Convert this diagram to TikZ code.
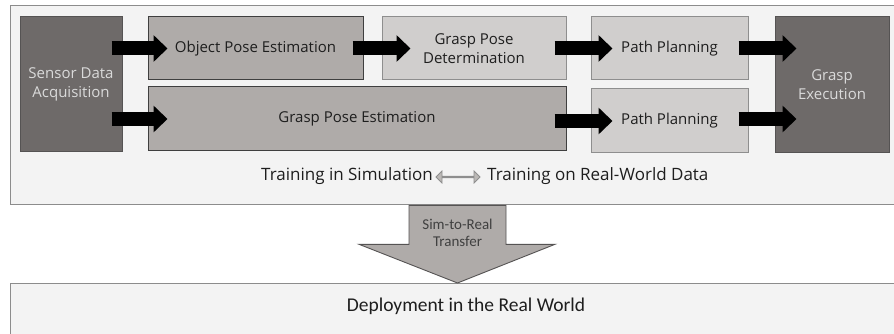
\documentclass[tikz,border=0pt]{standalone}
\usepackage{fontspec}
\setmainfont{Open Sans}
\newfontfamily\calib{Carlito}
\usetikzlibrary{arrows.meta,shapes.arrows}

\definecolor{panelfill}{HTML}{F3F3F3}
\definecolor{panelline}{HTML}{8C8C8C}
\definecolor{darkfill}{HTML}{6E6A69}
\definecolor{darkline}{HTML}{555353}
\definecolor{midfill}{HTML}{AFABA9}
\definecolor{midline}{HTML}{3F3F3F}
\definecolor{lightfill}{HTML}{D0CECD}
\definecolor{lightline}{HTML}{8E8E8E}
\definecolor{paletext}{HTML}{DADADA}
\definecolor{boxtext}{HTML}{1E1E1E}

\tikzset{
  stagebox/.style={rectangle, inner sep=0pt, line width=1pt, align=center,
    font=\fontsize{15}{19}\selectfont, text=boxtext},
  darkbox/.style={stagebox, fill=darkfill, draw=darkline, text=paletext},
  midbox/.style={stagebox, fill=midfill, draw=midline},
  lightbox/.style={stagebox, fill=lightfill, draw=lightline},
  panel/.style={rectangle, inner sep=0pt, fill=panelfill, draw=panelline, line width=1.3pt},
  blockarrow/.style={line width=14pt, black,
    -{Triangle[length=14pt, width=26pt]}},
}

\begin{document}
\begin{tikzpicture}[x=1pt, y=-1pt]
  \useasboundingbox (0,0) rectangle (894,334);
  \fill[white] (0,0) rectangle (894,334);

  % panels
  \node[panel, minimum width=900pt, minimum height=199pt, anchor=north west] (train) at (10,5) {};
  \node[panel, minimum width=900pt, minimum height=70pt, anchor=north west] (deploy) at (10,283) {};

  % pipeline stages
  \node[darkbox, minimum width=102pt, minimum height=135pt] (sensor) at (71,84.5) {Sensor Data\\Acquisition};
  \node[midbox, minimum width=215pt, minimum height=63pt] (objpose) at (255.5,48.5) {Object Pose Estimation};
  \node[lightbox, minimum width=184pt, minimum height=63pt] (gpdet) at (474,48.5) {Grasp Pose\\Determination};
  \node[lightbox, minimum width=157pt, minimum height=63pt] (path1) at (669.5,48.5) {Path Planning};
  \node[midbox, minimum width=418pt, minimum height=64pt] (gpest) at (357,119) {Grasp Pose Estimation};
  \node[lightbox, minimum width=157pt, minimum height=64pt] (path2) at (669.5,121) {Path Planning};
  \node[darkbox, minimum width=114pt, minimum height=136pt] (exec) at (832,85) {Grasp\\Execution};

  % block arrows between stages
  \draw[blockarrow] ([xshift=-11pt]sensor.east |- objpose.west) -- ([xshift=20pt]objpose.west);
  \draw[blockarrow] ([xshift=-11pt]sensor.east |- gpest.west) -- ([xshift=20pt]gpest.west);
  \draw[blockarrow] ([xshift=-11pt]objpose.east) -- ([xshift=29pt]gpdet.west);
  \draw[blockarrow] ([xshift=-12pt]gpdet.east) -- ([xshift=22pt]path1.west);
  \draw[blockarrow] ([xshift=-12pt]gpest.east |- path2.west) -- ([xshift=22pt]path2.west);
  \draw[blockarrow] ([xshift=-10pt]path1.east) -- ([xshift=22pt]exec.west |- path1.east);
  \draw[blockarrow] ([xshift=-10pt]path2.east |- gpest.east) -- ([xshift=22pt]exec.west |- gpest.east);

  % training domains
  \node[anchor=east, inner sep=0pt, font=\fontsize{17}{20}\selectfont, text=boxtext] (sim) at (433,176) {Training in Simulation};
  \node[anchor=west, inner sep=0pt, font=\fontsize{17}{20}\selectfont, text=boxtext] (real) at (487,176) {Training on Real-World Data};
  \node[double arrow, draw=lightline, fill=midfill!85!white, line width=0.8pt,
        minimum height=44pt, minimum width=12pt, double arrow head extend=3.5pt,
        inner sep=0pt] (swap) at (458,177) {};

  % sim-to-real transfer arrow
  \coordinate (top) at (train.south -| 457.5,0);
  \coordinate (tip) at (deploy.north -| 457.5,0);
  \draw[fill=midfill, draw=darkline, line width=0.9pt, line join=miter]
    ([xshift=-48.5pt]top) -- ([xshift=48.5pt]top) -- ([xshift=48.5pt,yshift=-39pt]top)
    -- ([xshift=97.5pt,yshift=-39pt]top) -- (tip) -- ([xshift=-98.5pt,yshift=-39pt]top)
    -- ([xshift=-48.5pt,yshift=-39pt]top) -- cycle;
  \node[align=center, inner sep=0pt, font=\calib\fontsize{15}{17}\selectfont, text=boxtext!85!white]
    (transfer) at (457.5,232.5) {Sim-to-Real\\Transfer};

  % deployment
  \node[inner sep=0pt, font=\calib\fontsize{19.5}{22}\selectfont, text=boxtext] (deploytext) at (466,306) {Deployment in the Real World};
\end{tikzpicture}
\end{document}
